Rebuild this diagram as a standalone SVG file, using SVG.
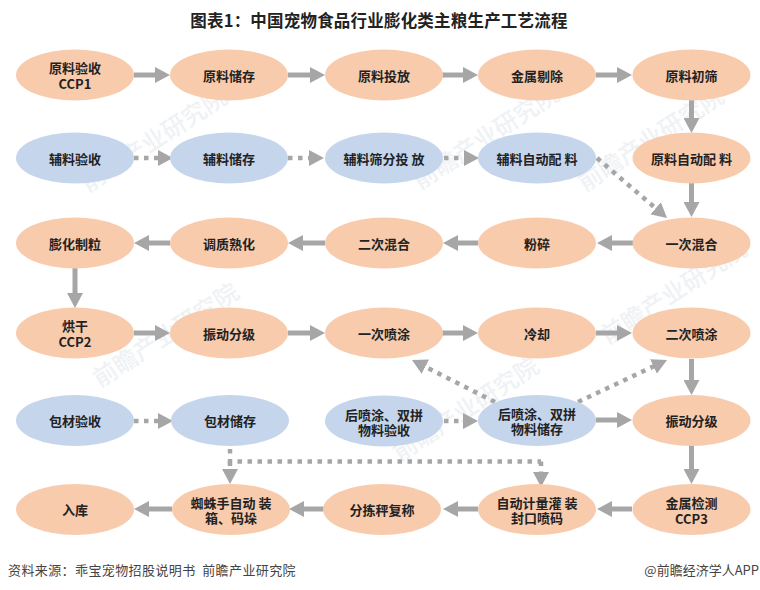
<svg xmlns="http://www.w3.org/2000/svg" width="760" height="590" viewBox="0 0 760 590">
<style>
text{font-family:"Noto Sans CJK SC","Liberation Sans",sans-serif}
.o{fill:#f8cbad}.b{fill:#c5d5ec}
.t{font-size:13px;font-weight:700;text-anchor:middle;fill:#222;dominant-baseline:central}
.l{fill:none;stroke:#a6a6a6;stroke-width:5}
.s{marker-end:url(#h)}
.d{stroke-width:4.500;stroke-dasharray:4.500 5.500}
.w{font-size:24px;fill:#e6ebf0;opacity:.6;font-weight:500}
</style>
<defs>
<marker id="h" markerUnits="userSpaceOnUse" markerWidth="16" markerHeight="16" refX="3" refY="8" orient="auto"><path d="M0 0L15 8L0 16Z" fill="#a6a6a6"/></marker>
</defs>
<rect width="760" height="590" fill="#fff"/>
<g id="watermarks">
<text class="w" transform="translate(88 193) rotate(-33)">前瞻产业研究院</text>
<text class="w" transform="translate(420 190) rotate(-33)">前瞻产业研究院</text>
<text class="w" transform="translate(585 192) rotate(-33)">前瞻产业研究院</text>
<text class="w" transform="translate(100 388) rotate(-33)">前瞻产业研究院</text>
<text class="w" transform="translate(400 462) rotate(-33)">前瞻产业研究院</text>
<text class="w" transform="translate(608 345) rotate(-33)">前瞻产业研究院</text>
</g>
<text id="title" x="379" y="20" font-size="16.500" letter-spacing=".2" font-weight="700" text-anchor="middle" dominant-baseline="central" fill="#222">图表1：中国宠物食品行业膨化类主粮生产工艺流程</text>
<g id="connectors">
<path class="l s" d="M134 75H158"/><path class="l s" d="M288 75H313"/><path class="l s" d="M442 75H466"/><path class="l s" d="M596 75H620"/>
<path class="l s" d="M691.500 100V121"/>
<path class="l d s" d="M134 158H161"/><path class="l d s" d="M288 158H312"/><path class="l d s" d="M444 158H467"/>
<path class="l d s" d="M597 158L657.900 210.200"/>
<path class="l s" d="M691.500 183V205"/>
<path class="l s" d="M633 243H609"/><path class="l s" d="M478 243H455"/><path class="l s" d="M325 243H300"/><path class="l s" d="M170 243H146"/>
<path class="l s" d="M75 268V296"/>
<path class="l s" d="M134 333H158"/><path class="l s" d="M288 333H313"/><path class="l s" d="M442 333H466"/><path class="l s" d="M596 333H620"/>
<path class="l s" d="M691.500 359V383"/>
<path class="l d s" d="M495 402L422.700 365.400"/><path class="l d s" d="M578 402L656.200 365.100"/>
<path class="l d s" d="M134 421H161"/><path class="l d s" d="M444 421H466"/><path class="l s" d="M596 420H620"/>
<path class="l s" d="M691.500 445V472"/>
<path class="l d" d="M230 449V461.500H541"/>
<path class="l d s" d="M230 461.500V472"/><path class="l d s" d="M541 461.500V475"/>
<path class="l s" d="M632 509H609"/><path class="l s" d="M478 509H455"/><path class="l s" d="M325 509H301"/><path class="l s" d="M172 509H146"/>
</g>
<g id="n1"><ellipse class="o" cx="75" cy="75" rx="59" ry="25.500"/><text class="t"><tspan x="75" y="67">原料验收</tspan><tspan x="75" y="83">CCP1</tspan></text></g>
<g id="n2"><ellipse class="o" cx="229" cy="75" rx="59" ry="25.500"/><text class="t" x="229" y="75">原料储存</text></g>
<g id="n3"><ellipse class="o" cx="384" cy="75" rx="59" ry="25.500"/><text class="t" x="384" y="75">原料投放</text></g>
<g id="n4"><ellipse class="o" cx="537" cy="75" rx="59" ry="25.500"/><text class="t" x="537" y="75">金属剔除</text></g>
<g id="n5"><ellipse class="o" cx="691.500" cy="75" rx="59" ry="25.500"/><text class="t" x="691.500" y="75">原料初筛</text></g>
<g id="n6"><ellipse class="b" cx="75" cy="158" rx="59" ry="25.500"/><text class="t" x="75" y="158">辅料验收</text></g>
<g id="n7"><ellipse class="b" cx="229" cy="158" rx="59" ry="25.500"/><text class="t" x="229" y="158">辅料储存</text></g>
<g id="n8"><ellipse class="b" cx="384" cy="158" rx="59" ry="25.500"/><text class="t" x="384" y="158">辅料筛分投 放</text></g>
<g id="n9"><ellipse class="b" cx="537" cy="158" rx="59" ry="25.500"/><text class="t" x="537" y="158">辅料自动配 料</text></g>
<g id="n10"><ellipse class="o" cx="691.500" cy="158" rx="59" ry="25.500"/><text class="t" x="691.500" y="158">原料自动配 料</text></g>
<g id="n11"><ellipse class="o" cx="75" cy="243" rx="59" ry="25.500"/><text class="t" x="75" y="243">膨化制粒</text></g>
<g id="n12"><ellipse class="o" cx="229" cy="243" rx="59" ry="25.500"/><text class="t" x="229" y="243">调质熟化</text></g>
<g id="n13"><ellipse class="o" cx="384" cy="243" rx="59" ry="25.500"/><text class="t" x="384" y="243">二次混合</text></g>
<g id="n14"><ellipse class="o" cx="537" cy="243" rx="59" ry="25.500"/><text class="t" x="537" y="243">粉碎</text></g>
<g id="n15"><ellipse class="o" cx="691.500" cy="243" rx="59" ry="25.500"/><text class="t" x="691.500" y="243">一次混合</text></g>
<g id="n16"><ellipse class="o" cx="75" cy="333" rx="59" ry="25.500"/><text class="t"><tspan x="75" y="325">烘干</tspan><tspan x="75" y="341">CCP2</tspan></text></g>
<g id="n17"><ellipse class="o" cx="229" cy="333" rx="59" ry="25.500"/><text class="t" x="229" y="333">振动分级</text></g>
<g id="n18"><ellipse class="o" cx="384" cy="333" rx="59" ry="25.500"/><text class="t" x="384" y="333">一次喷涂</text></g>
<g id="n19"><ellipse class="o" cx="537" cy="333" rx="59" ry="25.500"/><text class="t" x="537" y="333">冷却</text></g>
<g id="n20"><ellipse class="o" cx="691.500" cy="333" rx="59" ry="25.500"/><text class="t" x="691.500" y="333">二次喷涂</text></g>
<g id="n21"><ellipse class="b" cx="75" cy="420.500" rx="59" ry="25.500"/><text class="t" x="75" y="420.500">包材验收</text></g>
<g id="n22"><ellipse class="b" cx="230" cy="420.500" rx="59" ry="25.500"/><text class="t" x="230" y="420.500">包材储存</text></g>
<g id="n23"><ellipse class="b" cx="384" cy="421" rx="59" ry="25.500"/><text class="t"><tspan x="384" y="413.500">后喷涂、双拼</tspan><tspan x="384" y="428.500">物料验收</tspan></text></g>
<g id="n24"><ellipse class="b" cx="537" cy="420.500" rx="59" ry="25.500"/><text class="t"><tspan x="537" y="413">后喷涂、双拼</tspan><tspan x="537" y="428">物料储存</tspan></text></g>
<g id="n25"><ellipse class="o" cx="691.500" cy="420.500" rx="59" ry="25.500"/><text class="t" x="691.500" y="420.500">振动分级</text></g>
<g id="n26"><ellipse class="o" cx="75" cy="509.500" rx="59" ry="25.500"/><text class="t" x="75" y="509.500">入库</text></g>
<g id="n27"><ellipse class="o" cx="231" cy="509.500" rx="59" ry="25.500"/><text class="t"><tspan x="231" y="501.500">蜘蛛手自动 装</tspan><tspan x="231" y="517">箱、码垛</tspan></text></g>
<g id="n28"><ellipse class="o" cx="382" cy="509.500" rx="59" ry="25.500"/><text class="t" x="382" y="509.500">分拣秤复称</text></g>
<g id="n29"><ellipse class="o" cx="537" cy="509.500" rx="59" ry="25.500"/><text class="t"><tspan x="537" y="501.500">自动计量灌 装</tspan><tspan x="537" y="517">封口喷码</tspan></text></g>
<g id="n30"><ellipse class="o" cx="691.500" cy="509.500" rx="59" ry="25.500"/><text class="t"><tspan x="691.500" y="501.500">金属检测</tspan><tspan x="691.500" y="517.500">CCP3</tspan></text></g>
<text id="source" x="8" y="569" font-size="13" letter-spacing=".4" xml:space="preserve" dominant-baseline="central" fill="#444">资料来源：乖宝宠物招股说明书  前瞻产业研究院</text>
<text id="credit" x="759" y="569" font-size="13" text-anchor="end" dominant-baseline="central" fill="#444">@前瞻经济学人APP</text>
</svg>
